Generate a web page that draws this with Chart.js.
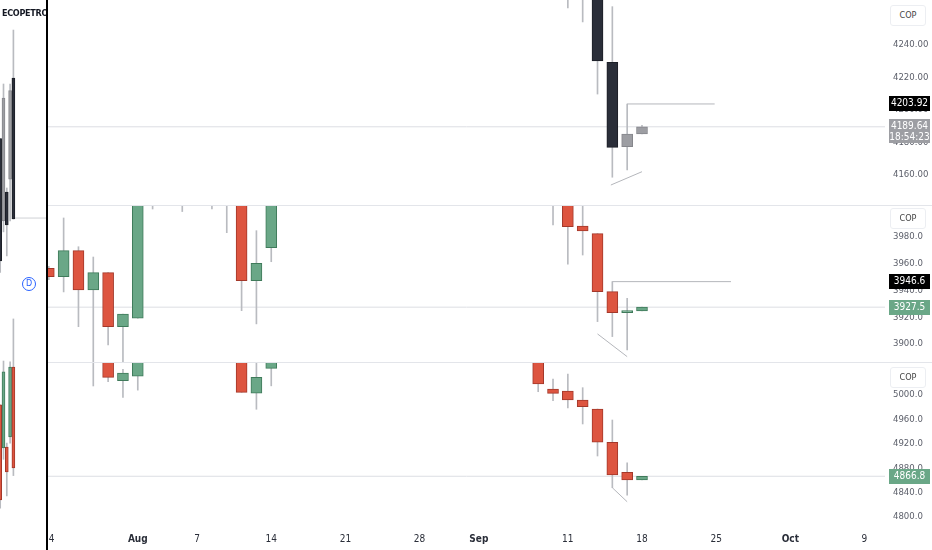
<!DOCTYPE html>
<html>
<head>
<meta charset="utf-8">
<script src="https://cdn.jsdelivr.net/npm/chart.js@4"></script>
<style>
body { margin: 0; background: #fff; }
#wrap { position: relative; width: 932px; height: 550px; overflow: hidden; background: #fff;
  font-family: 'Liberation Sans Narrow', 'DejaVu Sans Condensed', sans-serif; }
canvas { position: absolute; }
.sep { position: absolute; left: 48px; width: 884px; height: 1px; background: #e3e5ea; }
.cop { position: absolute; left: 890px; width: 34px; height: 19px; border: 1px solid #eceef2; border-radius: 3px;
  font-size: 9px; color: #444; line-height: 19px; text-align: center; background: #fff; }
#vline { position: absolute; left: 46px; top: 0; width: 2px; height: 550px; background: #000; }
#title { position: absolute; left: 2px; top: 8px; width: 44px; overflow: hidden; white-space: nowrap;
  font-size: 9px; letter-spacing: -0.3px; font-weight: bold; color: #131722; }
#dmark { position: absolute; left: 22px; top: 277px; width: 12px; height: 12px; border: 1px solid #2962ff; border-radius: 50%;
  color: #2962ff; font-size: 8px; line-height: 12px; text-align: center; font-family: 'DejaVu Sans', sans-serif; }
</style>
</head>
<body>
<div id="wrap">
  <canvas id="left" width="46" height="550" style="left:0;top:0"></canvas>
  <canvas id="p1" width="884" height="205" style="left:48px;top:0"></canvas>
  <canvas id="p2" width="884" height="157" style="left:48px;top:205px"></canvas>
  <canvas id="p3" width="884" height="188" style="left:48px;top:362px"></canvas>
  <div class="sep" style="top:205px"></div>
  <div class="sep" style="top:362px"></div>
  <div class="cop" style="top:5px">COP</div>
  <div class="cop" style="top:208px">COP</div>
  <div class="cop" style="top:367px">COP</div>
  <div id="title">ECOPETROL</div>
  <div id="dmark">D</div>
  <div id="vline"></div>
</div>
<script>
const FONT = "'Liberation Sans Narrow', 'DejaVu Sans Condensed', sans-serif";
const WICK = '#b9bbc0';
const DRAW = '#b4b6bb';

// x axis: one slot per trading day, 0 = Jul 24
const xTickIdx = [0, 6, 10, 15, 20, 25, 29, 35, 40, 45, 50, 55];
const xTickLabels = ['24', 'Aug', '7', '14', '21', '28', 'Sep', '11', '18', '25', 'Oct', '9'];
const xMonthLabels = ['Aug', 'Sep', 'Oct'];
const X_MIN = -0.054, X_MAX = 56.386;

// pane 1
const p1Idx = [35, 36, 37, 38, 39, 40];
const p1Open = [4290, 4285, 4280, 4229.3, 4177.4, 4185.2];
const p1High = [4300, 4295, 4290, 4263.6, 4203.7, 4190.5];
const p1Low = [4262.8, 4254.2, 4209.8, 4158.6, 4163.1, 4185.2];
const p1Close = [4275, 4270, 4230.2, 4177.0, 4185.2, 4189.64];
const p1Ticks = [4160, 4180, 4200, 4220, 4240];
const p1Last = 4189.64;
const p1TagValues = [4203.92, 4189.64];
const p1TagTexts = [['4203.92'], ['4189.64', '18:54:23']];
const p1TagColors = ['#000000', '#9d9ea3'];
const p1LinesX = [[39, 44.9], [37.9, 40]];
const p1LinesY = [[4203.7, 4203.7], [4153.8, 4162]];

// pane 2
const p2Idx = [0, 1, 2, 3, 4, 5, 6, 7, 9, 11, 12, 13, 14, 15, 34, 35, 36, 37, 38, 39, 40];
const p2Open = [3956.6, 3950.3, 3969.8, 3940.4, 3953.3, 3912.9, 3919.2, 4020, 4020, 4025, 4025, 4015, 3947.3, 3972.0, 4020, 4015, 3988.2, 3982.5, 3939.1, 3923.4, 3924.7];
const p2High = [3958.0, 3994.2, 3972.7, 3965.0, 3953.3, 3922.4, 4030, 4035, 4030, 4035, 4035, 4020, 3984.7, 4020, 4030, 4020, 4004.0, 3982.5, 3946.6, 3934.2, 3927.5];
const p2Low = [3948.0, 3938.9, 3912.9, 3868.6, 3899.3, 3886.3, 3919.2, 4000.9, 3999.0, 4001.0, 3983.2, 3924.9, 3915.0, 3961.5, 3989.0, 3959.6, 3966.5, 3916.7, 3905.5, 3895.5, 3924.7];
const p2Close = [3950.4, 3969.8, 3940.4, 3953.3, 3912.9, 3922.4, 4015, 4025, 4025, 4020, 4015, 3947.3, 3960.3, 4010, 4010, 3987.7, 3984.5, 3939.1, 3923.4, 3924.9, 3927.5];
const p2Ticks = [3900, 3920, 3940, 3960, 3980];
const p2Last = 3927.5;
const p2TagValues = [3946.6, 3927.5];
const p2TagTexts = [['3946.6'], ['3927.5']];
const p2TagColors = ['#000000', '#6aa787'];
const p2LinesX = [[38, 46], [37, 39]];
const p2LinesY = [[3946.6, 3946.6], [3907.5, 3890.5]];

// pane 3
const p3Idx = [3, 4, 5, 6, 13, 14, 15, 33, 34, 35, 36, 37, 38, 39, 40];
const p3Open = [5070, 5060, 5023.4, 5031, 5060, 5002.8, 5043.7, 5060, 5009.8, 5006.6, 4991.8, 4977, 4922.5, 4873.3, 4861];
const p3High = [5080, 5065, 5042, 5065, 5065, 5060, 5065, 5065, 5026, 5034.4, 5012, 4977, 4959, 4889, 4866.8];
const p3Low = [5014.8, 5021.8, 4996, 5008, 5004.4, 4976.6, 5015, 5005.4, 4990.7, 4979, 4952.5, 4900, 4848, 4836, 4861];
const p3Close = [5060, 5029, 5036, 5060, 5004.4, 5029, 5060, 5018, 5002.7, 4991.8, 4980.9, 4922.5, 4868.9, 4860.7, 4866.8];
const p3Ticks = [4800, 4840, 4880, 4920, 4960, 5000];
const p3Last = 4866.8;
const p3TagValues = [4866.8];
const p3TagTexts = [['4866.8']];
const p3TagColors = ['#6aa787'];
const p3LinesX = [[38, 39]];
const p3LinesY = [[4848, 4825]];

// left strip (cut-off chart)
const lIdx = [0, 1, 2, 3, 4];
const lTopOpen = [4182.4, 4131.7, 4149.5, 4157.5, 4219.7];
const lTopHigh = [4182.4, 4216.0, 4152.0, 4216.0, 4249.2];
const lTopLow = [4100.0, 4125.0, 4110.2, 4131.7, 4132.9];
const lTopClose = [4107.1, 4207.4, 4129.2, 4212.0, 4132.9];
const lBotOpen = [4018.5, 3992.0, 3992.6, 3998.8, 4041.8];
const lBotHigh = [4018.5, 4045.5, 3995.0, 4045.0, 4071.4];
const lBotLow = [3955.0, 3985.0, 3962.5, 3995.0, 3975.0];
const lBotClose = [3960.0, 4038.8, 3977.2, 4041.8, 3979.7];
const lLast = 4133.5;

const GREEN = ['#6aa787', '#3f7a5a'];
const RED = ['#dd5540', '#a3382a'];
const GRAY = ['#9d9ea3', '#86878c'];
const BLACK = ['#2a2e39', '#1c1f27'];

function candleSets(idx, o, h, l, c, up, down, w) {
  const isUp = idx.map((_, i) => c[i] >= o[i]);
  return [
    { type: 'bar', data: idx.map((x, i) => ({ x, y: [l[i], h[i]] })), backgroundColor: WICK,
      barThickness: 1, grouped: false, order: 4, clip: 0 },
    { type: 'bar', data: idx.map((x, i) => ({ x, y: [o[i], c[i]] })),
      backgroundColor: isUp.map(u => u ? up[0] : down[0]),
      borderColor: isUp.map(u => u ? up[1] : down[1]),
      borderWidth: 1, borderSkipped: false, barThickness: w, grouped: false, order: 3, clip: 0 }
  ];
}

function lineSet(xs, ys, color, order) {
  return { type: 'line', data: xs.map((x, i) => ({ x, y: ys[i] })), borderColor: color, borderWidth: 1,
    pointRadius: 0, order, clip: 0 };
}

const tagPlugin = {
  id: 'tags',
  afterDraw(chart, args, opts) {
    const ctx = chart.ctx;
    const ys = chart.scales.y;
    (opts.values || []).forEach((v, k) => {
      const lines = opts.texts[k];
      const py = ys.getPixelForValue(v);
      const h = lines.length > 1 ? 24 : 15;
      const top = Math.round(py - 7.5);
      ctx.save();
      ctx.fillStyle = opts.colors[k];
      ctx.fillRect(841, top, 41, h);
      ctx.fillStyle = '#ffffff';
      ctx.font = '10px ' + FONT;
      ctx.textAlign = 'center';
      ctx.textBaseline = 'middle';
      lines.forEach((t, j) => ctx.fillText(t, 861.5, top + 7.5 + j * 10.5));
      ctx.restore();
    });
  }
};

function makePane(id, p) {
  const datasets = [lineSet([X_MIN, X_MAX], [p.last, p.last], '#dcdee3', 5)]
    .concat(candleSets(p.idx, p.open, p.high, p.low, p.close, p.up, p.down, 11));
  p.linesX.forEach((xs, k) => datasets.push(lineSet(xs, p.linesY[k], DRAW, 1)));
  new Chart(document.getElementById(id), {
    type: 'bar',
    data: { datasets },
    plugins: [tagPlugin],
    options: {
      responsive: false,
      animation: false,
      devicePixelRatio: 1,
      layout: { padding: 0 },
      plugins: {
        legend: { display: false },
        tooltip: { enabled: false },
        tags: { values: p.tagValues, texts: p.tagTexts, colors: p.tagColors }
      },
      scales: {
        x: {
          type: 'linear', min: X_MIN, max: X_MAX, offset: false,
          display: p.showX,
          grid: { display: false, drawTicks: false },
          border: { display: false },
          afterBuildTicks: s => { s.ticks = xTickIdx.map(v => ({ value: v })); },
          afterFit: s => {
            if (p.showX) { s.height = 25; }
            s.paddingLeft = 0; s.paddingRight = 0;
          },
          ticks: {
            autoSkip: false, maxRotation: 0, padding: 8, color: '#2a2e39',
            callback: v => xTickLabels[xTickIdx.indexOf(v)],
            font: c => ({ family: FONT, size: 10,
              weight: xMonthLabels.includes(xTickLabels[c.index]) ? 'bold' : 'normal' })
          }
        },
        y: {
          type: 'linear', position: 'right', min: p.yMin, max: p.yMax,
          grid: { display: false, drawTicks: false },
          border: { display: false },
          afterBuildTicks: s => { s.ticks = p.ticks.map(v => ({ value: v })); },
          afterFit: s => { s.width = 47; s.paddingTop = 0; s.paddingBottom = 0; },
          ticks: {
            padding: 8, color: '#5d606b', font: { family: FONT, size: 9.5 },
            callback: v => v.toFixed(p.decimals)
          }
        }
      }
    }
  });
}

makePane('p1', { idx: p1Idx, open: p1Open, high: p1High, low: p1Low, close: p1Close,
  up: GRAY, down: BLACK, yMin: 4141.5, yMax: 4267.7, ticks: p1Ticks, decimals: 2, last: p1Last,
  tagValues: p1TagValues, tagTexts: p1TagTexts, tagColors: p1TagColors,
  linesX: p1LinesX, linesY: p1LinesY, showX: false });

makePane('p2', { idx: p2Idx, open: p2Open, high: p2High, low: p2Low, close: p2Close,
  up: GREEN, down: RED, yMin: 3886.5, yMax: 4003.9, ticks: p2Ticks, decimals: 1, last: p2Last,
  tagValues: p2TagValues, tagTexts: p2TagTexts, tagColors: p2TagColors,
  linesX: p2LinesX, linesY: p2LinesY, showX: false });

makePane('p3', { idx: p3Idx, open: p3Open, high: p3High, low: p3Low, close: p3Close,
  up: GREEN, down: RED, yMin: 4786.9, yMax: 5054.1, ticks: p3Ticks, decimals: 1, last: p3Last,
  tagValues: p3TagValues, tagTexts: p3TagTexts, tagColors: p3TagColors,
  linesX: p3LinesX, linesY: p3LinesY, showX: true });

// left strip
new Chart(document.getElementById('left'), {
  type: 'bar',
  data: {
    datasets: [lineSet([4.2, 14], [lLast, lLast], '#cfd1d6', 5)]
      .concat(candleSets(lIdx, lTopOpen, lTopHigh, lTopLow, lTopClose, GRAY, BLACK, 3))
      .concat(candleSets(lIdx, lBotOpen, lBotHigh, lBotLow, lBotClose, GREEN, RED, 3))
  },
  options: {
    responsive: false,
    animation: false,
    devicePixelRatio: 1,
    layout: { padding: 0 },
    plugins: { legend: { display: false }, tooltip: { enabled: false } },
    scales: {
      x: { type: 'linear', min: -0.06, max: 13.88, offset: false, display: false },
      y: { type: 'linear', min: 3929.2, max: 4267.7, display: false }
    }
  }
});
</script>
</body>
</html>
